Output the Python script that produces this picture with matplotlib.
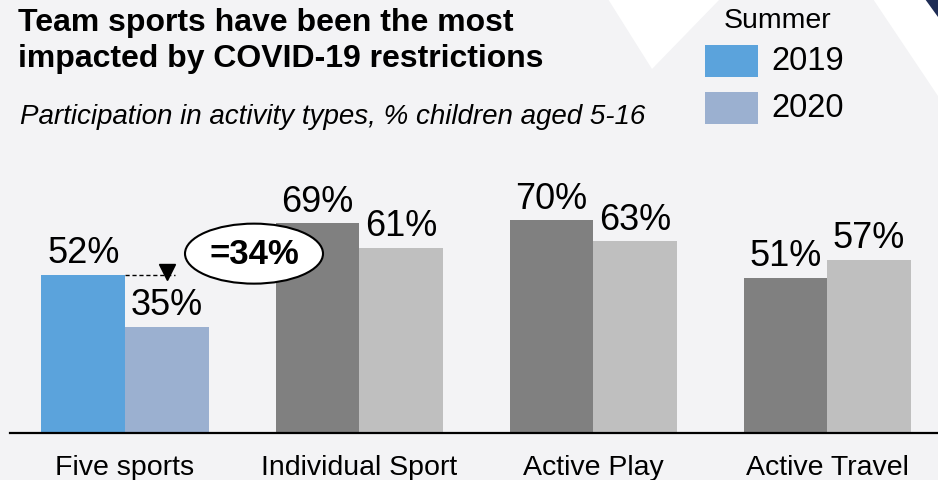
import matplotlib
matplotlib.use('Agg')
import matplotlib.pyplot as plt
from matplotlib.patches import Polygon, Ellipse, Rectangle, Circle
import numpy as np

# --- data ---
categories = ['Five sports', 'Individual Sport', 'Active Play', 'Active Travel']
values_2019 = [52, 69, 70, 51]
values_2020 = [35, 61, 63, 57]
years = ['2019', '2020']
drop_label = '=34%'

# --- style ---
BG = '#F3F3F5'
BLUE_2019 = '#5BA3DC'
BLUE_2020 = '#9BB0D0'
GREY_DARK = '#808080'
GREY_LIGHT = '#BFBFBF'
NAVY = '#1F2D55'
FONT = ['Liberation Sans', 'DejaVu Sans']

W, H = 938, 481
plt.rcParams['font.family'] = FONT

fig = plt.figure(figsize=(W / 100, H / 100), dpi=100)
fig.patch.set_facecolor(BG)


def px(x, y):
    # pixel (from top-left) -> figure fraction
    return x / W, 1 - y / H


# background decoration
for pts, col in [
    ([(608, 0), (652, 70), (720, 0)], 'white'),
    ([(873, 0), (938, 97), (938, 0)], 'white'),
    ([(925, 0), (938, 0), (938, 18)], NAVY),
]:
    fig.patches.append(Polygon([px(*p) for p in pts], closed=True,
                               transform=fig.transFigure, facecolor=col,
                               edgecolor='none', zorder=0))
fig.patches.append(Circle(px(662, -3), 6 / W, transform=fig.transFigure,
                          facecolor=NAVY, edgecolor='none', zorder=0))

# main axes: baseline at y=433 px, group spacing 234 px
ax = fig.add_axes([10 / W, (H - 434) / H, (W - 10) / W, 304 / H])
ax.set_facecolor('none')
x = np.arange(len(categories))
bw = 83.5 / 234
ax.set_xlim(-115 / 234, 813 / 234)
ax.set_ylim(0, 100)

c19 = [BLUE_2019] + [GREY_DARK] * 3
c20 = [BLUE_2020] + [GREY_LIGHT] * 3
b19 = ax.bar(x - bw / 2, values_2019, bw, color=c19, zorder=2)
b20 = ax.bar(x + bw / 2, values_2020, bw, color=c20, zorder=2)

for bars, vals in [(b19, values_2019), (b20, values_2020)]:
    for b, v in zip(bars, vals):
        ax.text(b.get_x() + b.get_width() / 2, v + 7.3, f'{v}%',
                ha='center', va='center', fontsize=26, color='black')

for s in ['top', 'right', 'left']:
    ax.spines[s].set_visible(False)
ax.spines['bottom'].set_linewidth(1.6)
ax.set_yticks([])
ax.set_xticks(x)
ax.set_xticklabels(categories, fontsize=20.5)
ax.tick_params(axis='x', length=0, pad=15)

# drop indicator on Five sports
top19 = values_2019[0]
ax.plot([x[0], x[0] + bw * 0.6], [top19, top19], ls=(0, (3, 2)),
        color='black', lw=1, zorder=3)
ax.plot([x[0] + bw * 0.5], [top19 + 1.0], marker='v', ms=12,
        color='black', zorder=4)
ex, ey = x[0] + 129 / 234, top19 + 7.0
ax.add_patch(Ellipse((ex, ey), 138 / 234, 60 / 3.04, facecolor='white',
                     edgecolor='black', lw=1.5, zorder=5, clip_on=False))
ax.text(ex, ey, drop_label, ha='center', va='center', fontsize=25,
        fontweight='bold', zorder=6)

# titles
fig.text(*px(18, 41), 'Team sports have been the most\nimpacted by COVID-19 restrictions',
         ha='left', va='center', fontsize=23, fontweight='bold', linespacing=1.28)
fig.text(*px(20, 117), 'Participation in activity types, % children aged 5-16',
         ha='left', va='center', fontsize=20, style='italic')

# legend
fig.text(*px(777, 21), 'Summer', ha='center', va='center', fontsize=20.5)
for yy, col, lab in [(62, BLUE_2019, years[0]), (109, BLUE_2020, years[1])]:
    fig.patches.append(Rectangle(px(705, yy + 16), 53 / W, 32 / H,
                                 transform=fig.transFigure, facecolor=col,
                                 edgecolor='none'))
    fig.text(*px(771, yy), lab, ha='left', va='center', fontsize=23.5)

fig.savefig('out.png', dpi=100, facecolor=BG)
